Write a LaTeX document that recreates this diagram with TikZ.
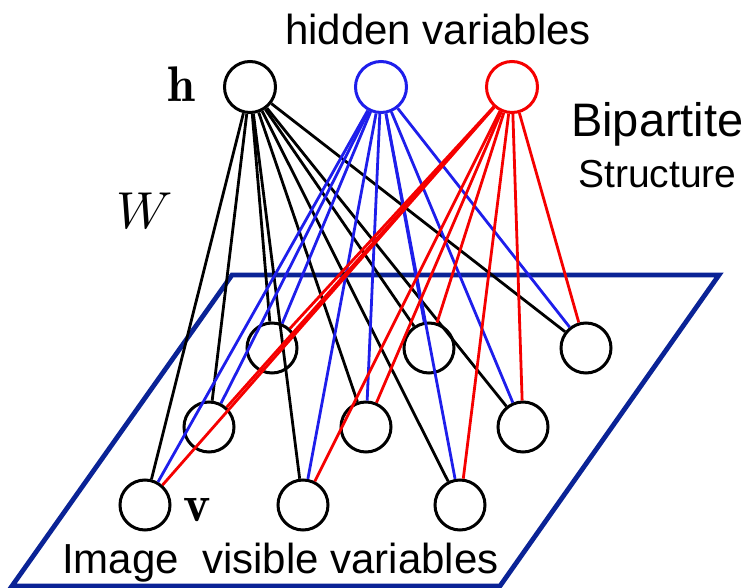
\documentclass[tikz,border=0pt]{standalone}
\usepackage{fontspec}
\newfontfamily\labelfont{Liberation Sans}
\definecolor{hblue}{RGB}{30,30,235}
\definecolor{hred}{RGB}{245,0,0}
\definecolor{planeblue}{RGB}{10,35,150}
\begin{document}
\begin{tikzpicture}[x=1pt, y=-1pt,
    hid/.style={circle, draw, line width=3pt, minimum size=51pt, inner sep=0pt},
    vis/.style={circle, draw=black, line width=3pt, minimum size=50pt, inner sep=0pt},
    wire/.style={line width=2.8pt},
    txt/.style={font=\labelfont\fontsize{#1}{#1}\selectfont, inner sep=0pt}]
    \useasboundingbox (0,0) rectangle (744,588);

    % Draw the image plane
    \draw[planeblue, line width=4.8pt, line join=miter] (232,275) -- (719,275) -- (500,586) -- (12,586) -- cycle;

    % Hidden units
    \node[hid, draw=black] (h1) at (250,87) {};
    \node[hid, draw=hblue] (h2) at (381,87) {};
    \node[hid, draw=hred]  (h3) at (512,87) {};

    % Visible units, front row to back row
    \node[vis] (v1) at (145,505) {};
    \node[vis] (v2) at (303,505) {};
    \node[vis] (v3) at (460,505) {};
    \node[vis] (v4) at (209,427) {};
    \node[vis] (v5) at (366,427) {};
    \node[vis] (v6) at (523,427) {};
    \node[vis] (v7) at (272,348) {};
    \node[vis] (v8) at (429,348) {};
    \node[vis] (v9) at (586,348) {};

    % Weights W: every hidden unit to every visible unit
    \foreach \h/\c in {h1/black, h2/hblue, h3/hred}
        \foreach \v in {v1,v2,v3,v4,v5,v6,v7,v8,v9}
            \draw[wire, \c] (\h) -- (\v);

    % Labels
    \node[txt=42, anchor=base] (hidtext) at (438,45) {hidden variables};
    \node[txt=47, anchor=base west] (bitext) at (571,137) {Bipartite};
    \node[txt=39, anchor=base west] (sttext) at (578,188) {Structure};
    \node[txt=42, anchor=base west] (imtext) at (62,573) {Image\ \ visible variables};
    \node[inner sep=0pt] (hlabel) at (181,84) {\scalebox{5}{$\mathbf{h}$}};
    \node[inner sep=0pt] (wlabel) at (145,211) {\scalebox{5.2}{$W$}};
    \node[inner sep=0pt] (vlabel) at (197,510) {\scalebox{5.2}{$\mathbf{v}$}};
\end{tikzpicture}
\end{document}
